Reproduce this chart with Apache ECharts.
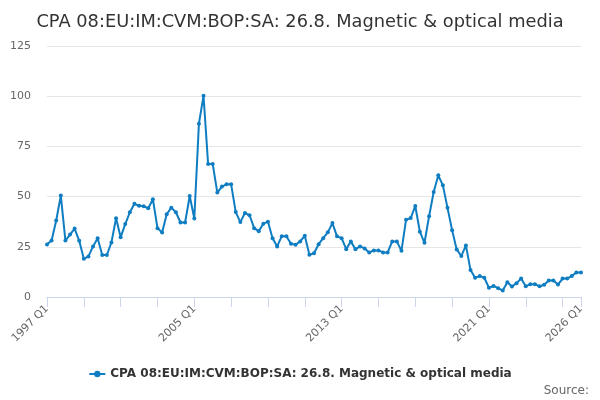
<!DOCTYPE html>
<html>
<head>
<meta charset="utf-8">
<script src="https://cdn.jsdelivr.net/npm/echarts@6/dist/echarts.min.js"></script>
<style>
  html, body { margin: 0; padding: 0; background: #fff; }
  #main { width: 600px; height: 400px; }
</style>
</head>
<body>
<div id="main"></div>
<script>
// quarters 1997 Q1 .. 2026 Q1
var quarters = [];
for (var y = 1997; y <= 2026; y++) {
    for (var q = 1; q <= 4; q++) {
        if (y === 2026 && q > 1) break;
        quarters.push(y + ' Q' + q);
    }
}

var seriesName = 'CPA 08:EU:IM:CVM:BOP:SA: 26.8. Magnetic & optical media';

var values = [
    26.2, 28.1, 38.1, 50.5, 28.1, 31.1, 34.1, 28.0, 19.0, 20.2,
    25.2, 29.3, 20.9, 20.9, 27.2, 39.2, 29.8, 36.3, 42.2, 46.4,
    45.4, 45.2, 44.2, 48.7, 34.3, 32.1, 41.2, 44.5, 42.2, 37.1,
    37.1, 50.3, 39.1, 86.3, 100.2, 66.2, 66.2, 52.0, 55.0, 56.1,
    56.1, 42.3, 37.3, 41.8, 40.7, 34.3, 32.8, 36.5, 37.5, 29.3,
    25.2, 30.3, 30.3, 26.5, 26.0, 27.7, 30.5, 21.0, 21.8, 26.3,
    29.3, 32.2, 36.8, 30.2, 29.3, 23.8, 27.7, 23.8, 25.2, 24.2,
    22.2, 23.2, 23.2, 22.2, 22.2, 27.7, 27.7, 23.0, 38.5, 39.3,
    45.3, 32.5, 27.0, 40.2, 52.3, 60.6, 55.6, 44.4, 33.3, 23.7,
    20.4, 25.7, 13.4, 9.6, 10.4, 9.6, 4.6, 5.5, 4.4, 3.2,
    7.3, 5.2, 6.9, 9.2, 5.3, 6.4, 6.4, 5.3, 6.1, 8.2,
    8.2, 6.2, 9.2, 9.2, 10.5, 12.2, 12.2
];

var yTicks = [0, 25, 50, 75, 100, 125];

var myChart = echarts.init(document.getElementById('main'));
var last = quarters.length - 1;

var option = {
    animation: false,
    title: {
        text: 'CPA 08:EU:IM:CVM:BOP:SA: 26.8. Magnetic & optical media',
        left: 'center',
        top: 8,
        textStyle: {
            fontFamily: 'DejaVu Sans',
            fontSize: 17.8,
            fontWeight: 'normal',
            color: '#333333'
        }
    },
    legend: {
        bottom: 15,
        left: 'center',
        itemWidth: 16,
        itemHeight: 8,
        itemGap: 6,
        data: [seriesName],
        textStyle: {
            fontFamily: 'DejaVu Sans',
            fontSize: 12,
            fontWeight: 'bold',
            color: '#333333'
        }
    },
    graphic: [{
        type: 'text',
        right: 11,
        bottom: 3,
        style: {
            text: 'Source:',
            fontFamily: 'DejaVu Sans',
            fontSize: 12,
            fill: '#666666'
        }
    }],
    grid: {
        left: 47,
        right: 19,
        top: 46,
        bottom: 103
    },
    xAxis: {
        type: 'category',
        boundaryGap: false,
        data: quarters,
        axisLine: { lineStyle: { color: '#ccd6eb', width: 1 } },
        axisTick: {
            length: 10,
            lineStyle: { color: '#ccd6eb' },
            interval: function (i) { return i % 8 === 0 || i === last; }
        },
        axisLabel: {
            rotate: 45,
            color: '#666666',
            fontFamily: 'DejaVu Sans',
            fontSize: 11,
            margin: 10,
            interval: function (i) { return i % 32 === 0 || i === last; }
        },
        splitLine: { show: false }
    },
    yAxis: {
        type: 'value',
        min: yTicks[0],
        max: yTicks[yTicks.length - 1],
        interval: 25,
        axisLine: { show: false },
        axisTick: { show: false },
        axisLabel: {
            color: '#666666',
            fontFamily: 'DejaVu Sans',
            fontSize: 11,
            margin: 16
        },
        splitLine: { lineStyle: { color: '#e6e6e6' } }
    },
    series: [{
        name: seriesName,
        type: 'line',
        data: values,
        color: '#0f7dc2',
        symbol: 'circle',
        symbolSize: 4,
        showAllSymbol: true,
        lineStyle: { width: 2 }
    }]
};

myChart.setOption(option);
</script>
</body>
</html>
